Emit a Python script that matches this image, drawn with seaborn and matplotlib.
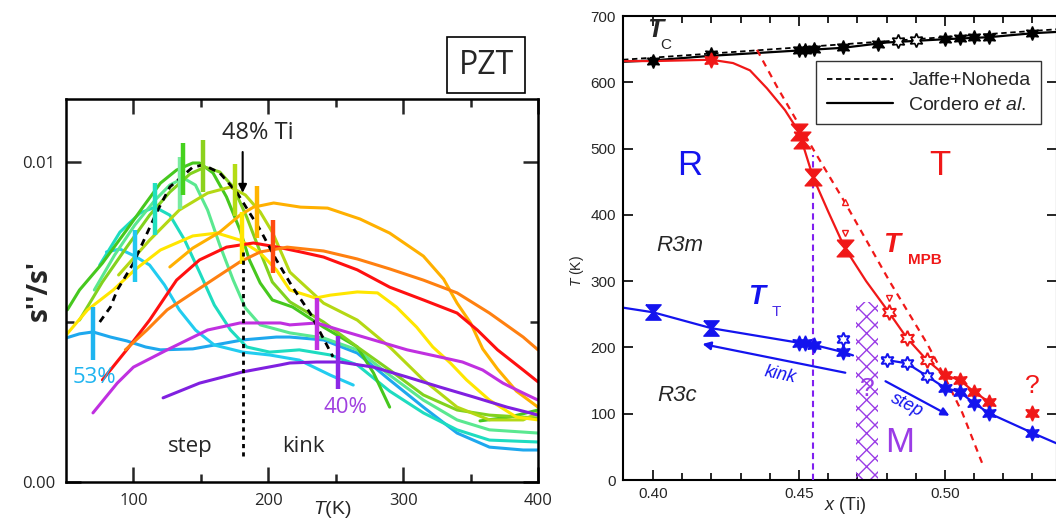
import numpy as np
import pandas as pd
import matplotlib
matplotlib.use("Agg")
import matplotlib.pyplot as plt
import seaborn as sns
from matplotlib.lines import Line2D

# ---------------- LEFT PANEL DATA: s''/s' (in units of 1e-3) vs T (K) ----------------
T53 = [50, 60, 70, 83, 95, 109, 120, 144, 164, 181, 206, 216, 241, 266, 290, 315, 340, 364, 389, 400]
L53 = [4.5, 4.63, 4.69, 4.53, 4.41, 4.22, 4.13, 4.16, 4.31, 4.44, 4.53, 4.53, 4.44, 4.03, 3.19, 2.34, 1.53, 1.09, 1.0, 1.0]
T52 = [80, 90, 101, 112, 123, 134, 146, 160, 181, 201, 223, 246, 263]
L52 = [7.19, 7.28, 7.06, 6.78, 6.16, 5.38, 4.75, 4.28, 4.06, 3.97, 3.81, 3.34, 3.03]
T51 = [75, 90, 105, 116, 127, 138, 149, 160, 172, 184, 201, 223, 246, 266, 290, 315, 340, 364, 400]
L51 = [6.78, 7.81, 8.41, 8.59, 8.34, 7.56, 6.56, 5.53, 4.75, 4.22, 4.06, 4.13, 3.97, 3.66, 2.84, 2.16, 1.63, 1.31, 1.25]
T505 = [71, 86, 101, 116, 127, 137, 146, 155, 164, 174, 183, 194, 216, 241, 266, 290, 315, 340, 364, 400]
L505 = [6.0, 7.09, 8.03, 8.81, 9.28, 9.5, 9.28, 8.5, 7.41, 6.31, 5.44, 4.91, 4.66, 4.5, 4.13, 3.34, 2.56, 1.94, 1.63, 1.53]
T50 = [51, 60, 77, 95, 107, 120, 132, 144, 149, 159, 169, 179, 186, 194, 203, 218, 241, 266, 278, 290]
L50 = [5.38, 6.0, 6.84, 7.88, 8.59, 9.34, 9.75, 9.97, 9.97, 9.66, 8.91, 7.88, 6.94, 6.22, 5.69, 5.47, 4.84, 4.22, 3.41, 2.34]
T50b = [357, 379, 400]
L50b = [1.91, 2.03, 2.25]
T49 = [60, 77, 95, 112, 127, 142, 153, 164, 174, 184, 194, 203, 216, 241, 266, 290, 315, 340, 364, 400]
L49 = [5.06, 6.25, 7.34, 8.34, 9.06, 9.63, 9.84, 9.69, 9.22, 8.28, 7.19, 6.25, 5.63, 5.0, 4.22, 3.5, 2.72, 2.25, 2.09, 2.0]
T48 = [75, 83, 88, 100, 117, 127, 144, 152, 164, 177, 194, 206, 218, 231, 248]
L48 = [5.0, 5.47, 6.0, 6.84, 8.41, 9.22, 9.84, 9.91, 9.66, 9.03, 7.88, 6.94, 6.09, 5.28, 3.91]
T47 = [89, 112, 134, 155, 172, 183, 194, 203, 216, 241, 266, 290, 315, 340, 364, 389, 400]
L47 = [6.47, 7.56, 8.5, 9.03, 9.22, 8.97, 8.44, 7.81, 6.56, 5.59, 5.06, 4.22, 3.19, 2.34, 1.94, 1.94, 2.16]
T46 = [50, 66, 85, 101, 120, 144, 162, 179, 194, 206, 216, 235, 246, 266, 281, 295, 310, 322, 335, 347, 364, 384, 400]
L46 = [4.59, 5.38, 6.0, 6.63, 7.25, 7.69, 7.78, 7.56, 7.16, 6.63, 6.0, 5.75, 5.84, 5.94, 5.91, 5.47, 4.84, 4.22, 3.72, 3.19, 2.56, 2.03, 1.94]
T45 = [127, 144, 164, 179, 189, 204, 224, 244, 268, 290, 315, 330, 340, 350, 359, 370, 384, 400]
L45 = [6.72, 7.31, 7.81, 8.34, 8.59, 8.72, 8.59, 8.56, 8.22, 7.78, 7.06, 6.34, 5.59, 4.97, 4.16, 3.53, 2.84, 2.34]
T43 = [77, 95, 112, 127, 132, 149, 169, 189, 207, 224, 241, 266, 290, 315, 340, 355, 370, 389, 400]
L43 = [3.19, 4.13, 5.06, 6.0, 6.31, 6.94, 7.34, 7.47, 7.34, 7.19, 7.03, 6.63, 6.09, 5.69, 5.28, 4.75, 4.13, 3.5, 3.13]
T42 = [94, 110, 125, 144, 162, 179, 194, 214, 241, 266, 290, 315, 340, 364, 389, 400]
L42 = [4.13, 4.75, 5.38, 5.91, 6.41, 6.88, 7.19, 7.34, 7.22, 6.97, 6.66, 6.31, 5.91, 5.28, 4.53, 4.13]
T41 = [70, 88, 100, 125, 155, 179, 209, 216, 236, 253, 278, 303, 327, 344, 359, 374, 389, 400]
L41 = [2.16, 3.09, 3.59, 4.13, 4.75, 4.97, 4.97, 4.91, 4.97, 4.75, 4.44, 4.13, 3.91, 3.75, 3.5, 3.09, 2.78, 2.56]
T40 = [122, 149, 181, 209, 216, 236, 253, 278, 303, 327, 352, 377, 394, 400]
L40 = [2.63, 3.09, 3.44, 3.66, 3.72, 3.75, 3.75, 3.59, 3.28, 2.97, 2.66, 2.34, 2.16, 2.09]

# vertical bars marking the anomaly on each curve
bar_T = [70, 101, 116, 134.5, 137, 151.6, 175, 180.5, 191.6, 203.5, 236, 251.7]
bar_L = [4.64, 7.06, 8.53, 9.34, 9.78, 9.88, 9.13, 7.63, 8.44, 7.36, 4.94, 3.73]
bar_colors = ['#1EB4F0', '#22C8F0', '#22E0C0', '#78EBA0', '#46D21E', '#8CD21E',
              '#B4DC14', '#FFE600', '#FFB400', '#FF4A10', '#C030E0', '#8C28E6']

# ---------------- RIGHT PANEL DATA: T (K) vs x (Ti) ----------------
tc_x = [0.400, 0.420, 0.450, 0.452, 0.455, 0.465, 0.477, 0.500, 0.505, 0.510, 0.515, 0.530]
tc_T = [632, 643, 648, 649, 650, 653, 658, 666, 667, 668, 668, 675]
tc_open_x = [0.484, 0.490]
tc_open_T = [663, 664]
tc_line_x = [0.3897, 0.400, 0.420, 0.450, 0.465, 0.480, 0.500, 0.515, 0.530, 0.5384]
tc_line_T = [631, 633, 640, 648, 652, 660, 665, 668, 674, 676]
jaffe_tc_x = [0.3897, 0.5384]
jaffe_tc_T = [634, 680]

mpb_line_x = [0.3897, 0.400, 0.420, 0.4274, 0.4332, 0.439, 0.4452, 0.450, 0.4548, 0.460, 0.4657, 0.473, 0.4808, 0.487, 0.4938, 0.500, 0.505, 0.510, 0.515]
mpb_line_T = [632, 632, 634, 629, 618, 591, 558, 525, 457, 405, 350, 300, 253, 214, 181, 158, 151, 133, 118]
mpb_hg_x = [0.450, 0.451, 0.4548, 0.4657]
mpb_hg_T = [525, 513, 457, 350]
mpb_star_x = [0.420, 0.500, 0.505, 0.510, 0.515, 0.530]
mpb_star_T = [634, 158, 151, 133, 118, 101]
mpb_open_x = [0.4808, 0.487, 0.4938]
mpb_open_T = [253, 214, 181]
mpb_tri_up_x = [0.4657]
mpb_tri_up_T = [419]
mpb_tri_dn_x = [0.4657, 0.4808]
mpb_tri_dn_T = [372, 274]
jaffe_mpb_x = [0.4356, 0.4425, 0.455, 0.4657, 0.481, 0.494, 0.4993, 0.506, 0.5127]
jaffe_mpb_T = [649, 593, 498, 419, 300, 205, 161, 101, 26]

tt_line1_x = [0.3897, 0.400, 0.420, 0.450, 0.455, 0.465, 0.4685]
tt_line1_T = [260, 253, 229, 207, 204, 193, 188]
tt_line2_x = [0.4785, 0.480, 0.487, 0.4938, 0.500, 0.505, 0.510, 0.515, 0.530, 0.5384]
tt_line2_T = [183, 181, 176, 157, 139, 133, 116, 101, 71, 55]
tt_hg_x = [0.400, 0.420]
tt_hg_T = [253, 229]
tt_star_x = [0.450, 0.452, 0.455, 0.465, 0.500, 0.505, 0.510, 0.515, 0.530]
tt_star_T = [207, 206, 204, 193, 139, 133, 116, 101, 71]
tt_open_x = [0.465, 0.480, 0.487, 0.4938]
tt_open_T = [213, 181, 176, 157]

# ---------------- STYLE ----------------
sns.set_theme(style="ticks")
plt.rcParams['font.family'] = ['Liberation Sans', 'DejaVu Sans']
plt.rcParams['mathtext.fontset'] = 'custom'
plt.rcParams['mathtext.rm'] = 'Liberation Sans'
plt.rcParams['mathtext.it'] = 'Liberation Sans:italic'
plt.rcParams['mathtext.bf'] = 'Liberation Sans:bold'
plt.rcParams['hatch.linewidth'] = 1.0

LEFT_FONT = ['Open Sans', 'DejaVu Sans']
RED = '#F01818'
BLUE = '#1414EE'
PURPLE = '#9A3CE6'

fig = plt.figure(figsize=(10.56, 5.28), dpi=100)
fig.patch.set_facecolor('white')
axL = fig.add_axes([66/1056, 46/528, 472/1056, 383/528])
axR = fig.add_axes([623/1056, 48/528, 434/1056, 464/528])

# ---------------- LEFT PANEL ----------------
curves = [
    (T53, L53, '#1EA8EE'), (T52, L52, '#22CCF0'), (T51, L51, '#1EDCC0'),
    (T505, L505, '#5AE890'), (T50, L50, '#46C81E'), (T50b, L50b, '#46C81E'),
    (T49, L49, '#82D21E'), (T47, L47, '#B4D814'), (T46, L46, '#FFE600'),
    (T45, L45, '#FFB000'), (T43, L43, '#FF1010'), (T42, L42, '#FF8010'),
    (T41, L41, '#C030E0'), (T40, L40, '#8020E0'),
]
for T, L, c in curves:
    df = pd.DataFrame({'T': T, 'v': np.array(L) * 1e-3})
    sns.lineplot(data=df, x='T', y='v', ax=axL, color=c, lw=2.2, sort=False, estimator=None)

df48 = pd.DataFrame({'T': T48, 'v': np.array(L48) * 1e-3})
sns.lineplot(data=df48, x='T', y='v', ax=axL, color='black', lw=2.0, sort=False,
             estimator=None, linestyle=(0, (2.5, 2)))

half = 0.82e-3
for t, l, c in zip(bar_T, bar_L, bar_colors):
    axL.vlines(t, l * 1e-3 - half, l * 1e-3 + half, colors=c, lw=3.2, zorder=5)

axL.vlines(181, 0.8e-3, 7.2e-3, colors='black', lw=2.0, linestyles=(0, (1.5, 1.5)), zorder=6)
axL.annotate('', xy=(181, 8.95e-3), xytext=(181, 10.4e-3),
             arrowprops=dict(arrowstyle='-|>', color='black', lw=1.5, mutation_scale=12))
axL.text(192, 10.9e-3, '48% Ti', fontsize=17, ha='center', va='center', family=LEFT_FONT)
axL.text(142, 1.1e-3, 'step', fontsize=16, ha='center', va='center', family=LEFT_FONT)
axL.text(226, 1.1e-3, 'kink', fontsize=16, ha='center', va='center', family=LEFT_FONT)
axL.text(71, 3.28e-3, '53%', fontsize=16, ha='center', va='center', color='#1EB4F0', family=LEFT_FONT)
axL.text(257, 2.34e-3, '40%', fontsize=16, ha='center', va='center', color='#A040E0', family=LEFT_FONT)

axL.set_xlim(50, 400)
axL.set_ylim(0, 0.01197)
axL.set_xticks([100, 200, 300, 400])
axL.set_xticklabels(['100', '200', '300', '400'], family=LEFT_FONT)
axL.set_xticks([150, 250, 350], minor=True)
axL.set_yticks([0, 0.01])
axL.set_yticklabels(['0.00', '0.01'], family=LEFT_FONT)
axL.set_yticks([0.005], minor=True)
axL.tick_params(which='both', direction='in', top=True, right=True, labelsize=12, width=1.8, pad=8)
axL.tick_params(which='major', length=11)
axL.tick_params(which='minor', length=6)
for s in axL.spines.values():
    s.set_linewidth(1.8)
    s.set_color('black')
axL.set_xlabel('')
axL.set_ylabel('')
axL.text(-0.056, 0.5, "s''/s'", transform=axL.transAxes, rotation=90, fontsize=20,
         fontweight='bold', ha='center', va='center', family=LEFT_FONT)
axL.text(0.564, -0.072, r'$T$(K)', transform=axL.transAxes, fontsize=14, ha='center', va='center')

fig.text(486/1056, 1 - 65/528, 'PZT', fontsize=23, ha='center', va='center', family=LEFT_FONT,
         bbox=dict(boxstyle='square,pad=0.35', fc='white', ec='black', lw=1.2))

# ---------------- RIGHT PANEL ----------------
hexagram = (6, 1, 0)
hourglass = [(-1, 1), (1, 1), (0.12, 0), (1, -1), (-1, -1), (-0.12, 0), (-1, 1)]

def line(x, y, color, ls='-', lw=1.6):
    df = pd.DataFrame({'x': x, 'T': y})
    sns.lineplot(data=df, x='x', y='T', ax=axR, color=color, lw=lw, linestyle=ls,
                 sort=False, estimator=None)

line(jaffe_tc_x, jaffe_tc_T, 'black', ls=(0, (3, 2)), lw=1.3)
line(tc_line_x, tc_line_T, 'black', lw=1.6)
line(jaffe_mpb_x, jaffe_mpb_T, RED, ls=(0, (3, 2.5)), lw=1.6)
line(mpb_line_x, mpb_line_T, RED, lw=1.6)
line(tt_line1_x, tt_line1_T, BLUE, lw=1.6)
line(tt_line2_x, tt_line2_T, BLUE, lw=1.6)

axR.plot(tc_x, tc_T, ls='none', marker=hexagram, ms=10, color='black', zorder=5)
axR.plot(tc_open_x, tc_open_T, ls='none', marker=hexagram, ms=10, mfc='white', mec='black', mew=1.2, zorder=5)
axR.plot(mpb_hg_x, mpb_hg_T, ls='none', marker=hourglass, ms=12, color=RED, zorder=5)
axR.plot(mpb_star_x, mpb_star_T, ls='none', marker=hexagram, ms=11, color=RED, zorder=5)
axR.plot(mpb_open_x, mpb_open_T, ls='none', marker=hexagram, ms=11, mfc='white', mec=RED, mew=1.4, zorder=5)
axR.plot(mpb_tri_up_x, mpb_tri_up_T, ls='none', marker='^', ms=5, mfc='white', mec=RED, mew=1.0, zorder=5)
axR.plot(mpb_tri_dn_x, mpb_tri_dn_T, ls='none', marker='v', ms=5, mfc='white', mec=RED, mew=1.0, zorder=5)
axR.plot(tt_hg_x, tt_hg_T, ls='none', marker=hourglass, ms=11, color=BLUE, zorder=5)
axR.plot(tt_star_x, tt_star_T, ls='none', marker=hexagram, ms=11, color=BLUE, zorder=5)
axR.plot(tt_open_x, tt_open_T, ls='none', marker=hexagram, ms=10, mfc='white', mec=BLUE, mew=1.4, zorder=5)

# hatched two-phase region and vertical purple line
axR.axvspan(0.4695, 0.4770, ymin=0, ymax=268/700, facecolor='none', edgecolor=PURPLE,
            hatch='xx', lw=0, zorder=2)
axR.vlines(0.4548, 0, 490, colors='#8020F0', lw=1.5, linestyles=(0, (3, 2)), zorder=3)

# arrows
axR.annotate('', xy=(0.416, 206), xytext=(0.4668, 161),
             arrowprops=dict(arrowstyle='-|>', color=BLUE, lw=1.6, mutation_scale=12))
axR.annotate('', xy=(0.5024, 95), xytext=(0.4788, 151),
             arrowprops=dict(arrowstyle='-|>', color=BLUE, lw=1.6, mutation_scale=12))
axR.text(0.4435, 158, 'kink', color=BLUE, fontsize=13, style='italic', rotation=-12, ha='center', va='center')
axR.text(0.487, 113, 'step', color=BLUE, fontsize=13, style='italic', rotation=-27, ha='center', va='center')

# labels inside panel
axR.text(0.4007, 679, 'T', fontsize=19, style='italic', weight='bold', ha='center', va='center')
axR.text(0.4043, 656, 'C', fontsize=11, ha='center', va='center')
axR.text(0.4127, 475, 'R', fontsize=25, color=BLUE, ha='center', va='center')
axR.text(0.4983, 475, 'T', fontsize=25, color=RED, ha='center', va='center')
axR.text(0.4092, 354, 'R3m', fontsize=16, style='italic', ha='center', va='center')
axR.text(0.4082, 128, 'R3c', fontsize=16, style='italic', ha='center', va='center')
axR.text(0.4356, 276, 'T', fontsize=20, style='italic', weight='bold', color=BLUE, ha='center', va='center')
axR.text(0.4421, 253, 'T', fontsize=11, color='#4A2CE6', ha='center', va='center')
axR.text(0.4818, 354, 'T', fontsize=20, style='italic', weight='bold', color=RED, ha='center', va='center')
axR.text(0.4932, 332, 'MPB', fontsize=11, weight='bold', color=RED, ha='center', va='center')
axR.text(0.530, 142, '?', fontsize=19, color=RED, ha='center', va='center')
axR.text(0.4733, 138, '?', fontsize=19, color=PURPLE, ha='center', va='center')
axR.text(0.4846, 56, 'M', fontsize=25, color=PURPLE, ha='center', va='center')

handles = [Line2D([], [], color='black', ls=(0, (3, 2)), lw=1.3),
           Line2D([], [], color='black', ls='-', lw=1.6)]
leg = axR.legend(handles, ['Jaffe+Noheda', r'Cordero $\it{et\ al.}$'], loc='upper left',
                 bbox_to_anchor=(0.445, 0.903), borderaxespad=0, fontsize=14, frameon=True,
                 fancybox=False, edgecolor='black', handlelength=3.4, borderpad=0.55,
                 labelspacing=0.35, handletextpad=0.8)
leg.get_frame().set_linewidth(1.0)

axR.set_xlim(0.3897, 0.5384)
axR.set_ylim(0, 700)
axR.set_xticks([0.40, 0.45, 0.50])
axR.set_xticklabels(['0.40', '0.45', '0.50'])
axR.set_xticks(np.round(np.arange(0.40, 0.535, 0.01), 2), minor=True)
axR.set_yticks(np.arange(0, 701, 100))
axR.tick_params(which='both', direction='in', top=True, right=True, labelsize=11, width=1.4, pad=5)
axR.tick_params(which='major', length=7)
axR.tick_params(which='minor', length=5)
for s in axR.spines.values():
    s.set_linewidth(1.5)
    s.set_color('black')
axR.set_xlabel('')
axR.set_ylabel('')
axR.text(-0.106, 0.45, r'$T$ (K)', transform=axR.transAxes, rotation=90, fontsize=10, ha='center', va='center')
axR.text(0.512, -0.054, r'$x$ (Ti)', transform=axR.transAxes, fontsize=13, ha='center', va='center')

fig.savefig('out.png', dpi=100, facecolor='white')
